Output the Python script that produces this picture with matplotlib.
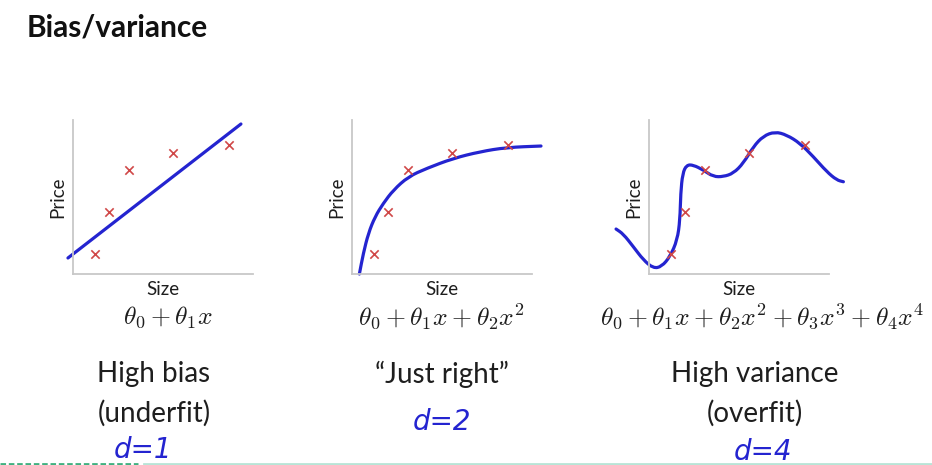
import numpy as np
import matplotlib
matplotlib.use("Agg")
import matplotlib.pyplot as plt
from matplotlib.lines import Line2D
from matplotlib.path import Path
from matplotlib.patches import PathPatch

# ---- data ----
size_pts = [1.22, 2.0, 3.1, 5.56, 8.67]
price_pts = [1.3, 4.0, 6.75, 7.86, 8.4]

fit1_x = [-0.28, 9.33]
fit1_y = [1.04, 9.74]

fit2_x = [0.41, 0.63, 0.91, 1.28, 1.74, 2.30, 3.13, 4.15, 5.63, 7.11, 8.59, 10.5]
fit2_y = [0.0, 1.34, 2.64, 3.72, 4.59, 5.45, 6.32, 6.86, 7.51, 7.94, 8.22, 8.31]

fit4_x = [-1.83, -1.43, -0.87, -0.31, 0.24, 0.70, 1.17, 1.57, 1.72, 1.76, 1.87, 2.09,
          2.46, 3.02, 3.57, 4.13, 4.69, 5.24, 5.80, 6.35, 7.0, 7.65, 8.39, 9.13, 9.87,
          10.43, 10.80]
fit4_y = [2.92, 2.60, 1.77, 0.91, 0.37, 0.48, 1.13, 2.21, 3.51, 5.24, 6.54, 7.08,
          7.08, 6.75, 6.32, 6.32, 6.54, 7.19, 8.27, 8.96, 9.24, 9.03, 8.49, 7.62, 6.65,
          6.10, 5.99]

formulas = [r"$\theta_0 + \theta_1 x$",
            r"$\theta_0 + \theta_1 x + \theta_2 x^2$",
            r"$\theta_0 + \theta_1 x + \theta_2 x^2 + \theta_3 x^3 + \theta_4 x^4$"]
captions = [["High bias", "(underfit)"], ["\u201cJust right\u201d"], ["High variance", "(overfit)"]]
degrees = ["d=1", "d=2", "d=4"]
title = "Bias/variance"

W, H = 932, 465
fig = plt.figure(figsize=(W / 100, H / 100), dpi=100)
fig.patch.set_facecolor("white")
plt.rcParams["mathtext.fontset"] = "cm"

FONT = "Lato"
BLUE = "#2424d0"
RED = "#d04848"
SPINE = "#c8c8c8"
TXT = "#1e1e1e"

lefts = [73, 352, 649]
curves = [(fit1_x, fit1_y), (fit2_x, fit2_y), (fit4_x, fit4_y)]
form_x = [168, 442, 762]
cap_x = [154, 442, 755]
deg_pos = [(143, 450), (442, 422), (763, 452)]


def smooth_path(xs, ys):
    pts = list(zip(xs, ys))
    if len(pts) < 3:
        return Path(pts, [Path.MOVETO, Path.LINETO])
    verts = [pts[0]]
    codes = [Path.MOVETO]
    first_mid = ((pts[0][0] + pts[1][0]) / 2, (pts[0][1] + pts[1][1]) / 2)
    verts.append(first_mid)
    codes.append(Path.LINETO)
    for k in range(1, len(pts) - 1):
        mid = ((pts[k][0] + pts[k + 1][0]) / 2, (pts[k][1] + pts[k + 1][1]) / 2)
        verts += [pts[k], mid]
        codes += [Path.CURVE3, Path.CURVE3]
    verts.append(pts[-1])
    codes.append(Path.LINETO)
    return Path(verts, codes)


for i, left in enumerate(lefts):
    ax = fig.add_axes([left / W, (H - 274) / H, 180 / W, 154 / H])
    ax.set_xlim(0, 10)
    ax.set_ylim(0, 10)
    ax.set_facecolor("none")
    for s in ["top", "right"]:
        ax.spines[s].set_visible(False)
    for s in ["left", "bottom"]:
        ax.spines[s].set_color(SPINE)
        ax.spines[s].set_linewidth(1.3)
    ax.set_xticks([])
    ax.set_yticks([])
    cx, cy = curves[i]
    patch = PathPatch(smooth_path(cx, cy), facecolor="none", edgecolor=BLUE, lw=2.3,
                      clip_on=False, zorder=2, joinstyle="round", capstyle="round")
    ax.add_patch(patch)
    ax.scatter(size_pts, price_pts, marker="x", color=RED, s=36, linewidths=1.2,
               clip_on=False, zorder=3)
    ax.set_xlabel("Size", fontfamily=FONT, fontsize=13.5, color=TXT, labelpad=5)
    ax.set_ylabel("Price", fontfamily=FONT, fontsize=13.5, color=TXT, labelpad=5)

    fig.text(form_x[i] / W, 1 - 317 / H, formulas[i], fontsize=18.5, ha="center",
             va="center", color=TXT)
    for j, line in enumerate(captions[i]):
        fig.text(cap_x[i] / W, 1 - (374 + 39 * j) / H, line, fontfamily=FONT,
                 fontsize=20, ha="center", va="center", color=TXT)
    dx, dy = deg_pos[i]
    fig.text(dx / W, 1 - dy / H, degrees[i], fontsize=20, ha="center", va="center",
             color=BLUE, style="italic")

fig.text(27 / W, 1 - 27 / H, title, fontfamily=FONT, fontweight="bold", fontsize=21.5,
         ha="left", va="center", color="#111111")

fig.add_artist(Line2D([0, 138 / W], [1.5 / H, 1.5 / H], color="#40b080", lw=2,
                      linestyle=(0, (2, 1)), transform=fig.transFigure))
fig.add_artist(Line2D([144 / W, 1], [1.5 / H, 1.5 / H], color="#b8e4d6", lw=2,
                      transform=fig.transFigure))

fig.savefig("out.png", dpi=100, facecolor="white")
